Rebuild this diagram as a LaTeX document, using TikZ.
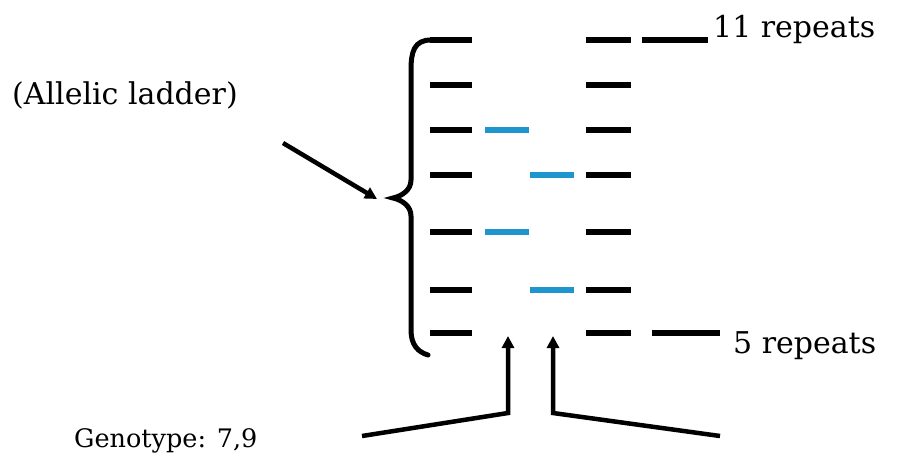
\documentclass[tikz,border=0pt]{standalone}
\usepackage{fontspec}
\setmainfont{DejaVu Serif}
\usetikzlibrary{arrows.meta}
\definecolor{bandblue}{RGB}{30,150,205}
\begin{document}
\begin{tikzpicture}[x=1pt,y=-1pt,
  band/.style={line width=5.5pt},
  blueband/.style={line width=5.5pt,draw=bandblue},
  arr/.style={line width=4.5pt,-{Triangle[length=12pt,width=12pt]}},
  lbl/.style={inner sep=0pt,anchor=west,font=\fontsize{30}{34}\selectfont},
]
\useasboundingbox (0,0) rectangle (901,459);
% ladder lanes
\foreach \y in {40,85,130,175,232,290,333}{
  \draw[band] (430,\y) -- (472,\y);
  \draw[band] (586,\y) -- (631,\y);
}
% blue sample bands
\draw[blueband] (485,130) -- (529,130);
\draw[blueband] (530,175) -- (574,175);
\draw[blueband] (485,232) -- (529,232);
\draw[blueband] (530,290) -- (574,290);
% extension lines to labels
\coordinate (t1) at (642,40);
\coordinate (t2) at (708,40);
\coordinate (b1) at (652,333);
\coordinate (b2) at (720,333);
\draw[band] (t1) -- (t2);
\draw[band] (b1) -- (b2);
% labels
\node[lbl] (r11) at (713,29) {11 repeats};
\node[lbl] (r5) at (733,346) {5 repeats};
\node[lbl] (al) at (12,95) {(Allelic ladder)};
\node[lbl,font=\fontsize{25.5}{30}\selectfont] (gt) at (74,441) {Genotype: 7,9};
% brace
\draw[line width=5pt,line cap=round]
  (431,40) .. controls (414,40) and (411,52) .. (411,70)
  -- (411,180) .. controls (411,190) and (402,196) .. (393,198)
  .. controls (402,200) and (411,206) .. (411,216)
  -- (411,330) .. controls (411,345) and (418,352) .. (428,355);
% arrows
\coordinate (ps) at (283,143);
\coordinate (pe) at (377,199);
\draw[arr] (ps) -- (pe);
\coordinate (g1) at (362,436);
\coordinate (g1c) at (508,413);
\coordinate (g1t) at (508,336);
\coordinate (g2) at (720,436);
\coordinate (g2c) at (553,413);
\coordinate (g2t) at (553,336);
\draw[arr,line join=miter] (g1) -- (g1c) -- (g1t);
\draw[arr,line join=miter] (g2) -- (g2c) -- (g2t);
\end{tikzpicture}
\end{document}
